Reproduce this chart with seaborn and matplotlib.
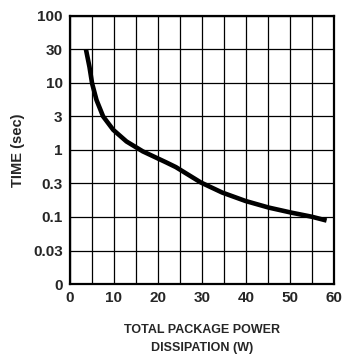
import numpy as np
import pandas as pd
import matplotlib
matplotlib.use("Agg")
import matplotlib.pyplot as plt
import seaborn as sns

# curve (W, seconds)
power = [3.7, 4.5, 5.1, 6.1, 7.6, 9.9, 12.9, 16.6, 21.9, 24.1, 29.8,
         34.6, 39.9, 45.2, 50.4, 54.9, 58.3]
time_s = [30, 16.9, 9.8, 5.4, 3.0, 1.93, 1.32, 0.95, 0.64, 0.54, 0.31,
          0.223, 0.169, 0.136, 0.115, 0.101, 0.088]

y_ticks = [0.01, 0.03, 0.1, 0.3, 1, 3, 10, 30, 100]
y_ticklabels = ["0", "0.03", "0.1", "0.3", "1", "3", "10", "30", "100"]
x_ticks = [0, 10, 20, 30, 40, 50, 60]
x_grid = list(range(0, 61, 5))

sns.set_style("white")
plt.rcParams["font.family"] = ["Liberation Sans", "DejaVu Sans"]
plt.rcParams["font.weight"] = "bold"

# the paper grid spaces 1-3-10 steps evenly
logs = np.log10(y_ticks)
idx = np.arange(len(y_ticks), dtype=float)

def fwd(v):
    v = np.clip(np.asarray(v, dtype=float), 1e-6, None)
    return np.interp(np.log10(v), logs, idx)

def inv(p):
    return 10 ** np.interp(p, idx, logs)

df = pd.DataFrame({"power": power, "time": time_s})

fig = plt.figure(figsize=(3.43, 3.60), dpi=100)
ax = fig.add_axes([0.203, 0.211, 0.771, 0.745])
ax.set_yscale("function", functions=(fwd, inv))

sns.lineplot(data=df, x="power", y="time", ax=ax, color="black",
             linewidth=3.3, solid_capstyle="butt", solid_joinstyle="round")

ax.set_xlim(0, 60)
ax.set_ylim(0.01, 100)
ax.set_xticks(x_grid, minor=True)
ax.set_xticks(x_ticks)
ax.set_yticks(y_ticks)
ax.set_yticklabels(y_ticklabels)
ax.yaxis.set_minor_locator(matplotlib.ticker.NullLocator())
ax.grid(True, which="both", axis="x", color="black", linewidth=0.9)
ax.grid(True, which="major", axis="y", color="black", linewidth=0.9)
ax.tick_params(which="both", length=0, labelsize=11, pad=5)
for s in ax.spines.values():
    s.set_linewidth(1.6)
    s.set_color("black")

ax.set_xlabel("TOTAL PACKAGE POWER\nDISSIPATION (W)", fontsize=9, fontweight="bold",
              labelpad=14, linespacing=1.6)
ax.set_ylabel("TIME (sec)", fontsize=10.5, fontweight="bold", labelpad=6)

fig.savefig("out.png", dpi=100)
